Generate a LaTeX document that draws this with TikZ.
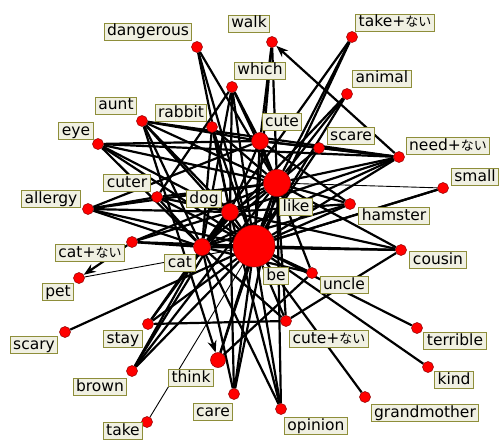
\documentclass[tikz,border=0pt]{standalone}
\usepackage{fontspec}
\setmainfont{DejaVu Sans}
\newfontfamily\jpfont{Noto Sans CJK JP}
\usetikzlibrary{arrows.meta,backgrounds}
\newcommand\naitext{{\jpfont\fontsize{13}{14}\selectfont ない}}
\definecolor{labfill}{HTML}{F0F0E2}
\definecolor{labdraw}{HTML}{8E8E3A}
\definecolor{dotred}{HTML}{FF0000}
\tikzset{
  dot/.style={circle, fill=dotred, draw=red!55!black, line width=0.5pt, inner sep=0pt, minimum size=11pt},
  lab/.style={rectangle, fill=labfill, draw=labdraw, line width=1pt, inner xsep=3pt, inner ysep=1pt,
    text height=11.5pt, text depth=3.5pt, font=\fontsize{15.5}{17}\selectfont},
  edge/.style={line width=2.2pt, black},
  thinedge/.style={line width=0.9pt, black},
  arr/.style={line width=2.2pt, black, -{Stealth[length=12pt,width=9pt]}},
}
\begin{document}
\begin{tikzpicture}[x=1pt,y=-1pt]
\useasboundingbox (0,0) rectangle (502,441);
% dots
\node[dot] (dangerous) at (197,47) {};
\node[dot] (walk) at (272,42) {};
\node[dot] (takenai) at (352,37) {};
\node[dot] (which) at (232,87) {};
\node[dot] (animal) at (347,94) {};
\node[dot] (aunt) at (142,121) {};
\node[dot] (rabbit) at (212,127) {};
\node[dot] (eye) at (98,144) {};
\node[dot] (cuter) at (157,197) {};
\node[dot] (allergy) at (88,209) {};
\node[dot, minimum size=17pt] (cute) at (260,141) {};
\node[dot] (scare) at (319,148) {};
\node[dot] (need) at (399,157) {};
\node[dot] (small) at (443,188) {};
\node[dot, minimum size=27pt] (like) at (277,183) {};
\node[dot] (hamster) at (350,204) {};
\node[dot, minimum size=17pt] (dog) at (230,212) {};
\node[dot] (catnai) at (132,242) {};
\node[dot, minimum size=17pt] (cat) at (202,247) {};
\node[dot, minimum size=42pt] (be) at (254,246) {};
\node[dot] (cousin) at (401,250) {};
\node[dot] (uncle) at (312,273) {};
\node[dot] (pet) at (79,278) {};
\node[dot] (cutenai) at (286,321) {};
\node[dot] (terrible) at (417,328) {};
\node[dot] (scary) at (65,332) {};
\node[dot] (stay) at (148,324) {};
\node[dot] (kind) at (428,367) {};
\node[dot, minimum size=15pt] (think) at (218,360) {};
\node[dot] (brown) at (132,371) {};
\node[dot] (care) at (234,394) {};
\node[dot] (grandmother) at (365,397) {};
\node[dot] (opinion) at (281,409) {};
\node[dot] (take) at (147,422) {};
% edges
\begin{pgfonlayer}{background}
\fill[white] (0,0) rectangle (502,441);
\foreach \a in {dangerous,walk,takenai,which,animal,aunt,rabbit,cute,scare,eye,need,cuter,small,like,dog,allergy,hamster,catnai,cat,cousin,uncle,stay,cutenai,terrible,scary,brown,kind,think,care,grandmother,opinion}
  \draw[edge] (be) -- (\a);
\foreach \a in {dangerous,walk,takenai,which,animal,aunt,rabbit,cute,scare,eye,need,cuter,dog,allergy,hamster,catnai,cat,cousin,uncle,cutenai,think,care,opinion,brown}
  \draw[edge] (like) -- (\a);
\foreach \a in {which,animal,aunt,rabbit,eye,need,cuter,allergy,hamster,catnai,cousin,uncle,stay,brown,cutenai,opinion,care,dog,takenai}
  \draw[edge] (cat) -- (\a);
\foreach \a in {dangerous,which,aunt,rabbit,eye,need,cuter,allergy,hamster,catnai,cousin,brown,care,cute,opinion,stay}
  \draw[edge] (dog) -- (\a);
\foreach \a in {walk,which,aunt,eye,allergy,need,scare,hamster}
  \draw[edge] (cute) -- (\a);
\draw[edge] (cutenai) -- (cousin);
\draw[edge] (allergy) -- (cuter);
\draw[edge] (which) -- (cuter);
\draw[edge] (eye) -- (need);
\draw[edge] (aunt) -- (need);
\draw[edge] (uncle) -- (think);
\draw[edge] (cutenai) -- (stay);
\draw[edge] (scare) -- (need);
\draw[edge] (small) -- (be);
\draw[thinedge] (small) -- (like);
\draw[thinedge] (pet) -- (be);
\draw[thinedge] (take) -- (be);
\draw[arr] (need) -- (walk);
\draw[arr] (catnai) -- (pet);
\draw[arr] (aunt) -- (think);
\end{pgfonlayer}
% labels
\node[lab] (dangerous-t) at (148,32) {dangerous};
\node[lab] (walk-t) at (249,24) {walk};
\node[lab] (takenai-t) at (395,23) {take+\naitext};
\node[lab] (which-t) at (260,71) {which};
\node[lab] (animal-t) at (382,79) {animal};
\node[lab] (aunt-t) at (116,106) {aunt};
\node[lab] (rabbit-t) at (181,113) {rabbit};
\node[lab] (eye-t) at (76,131) {eye};
\node[lab] (cuter-t) at (127,183) {cuter};
\node[lab] (dog-t) at (204,199) {dog};
\node[lab] (allergy-t) at (51,199) {allergy};
\node[lab] (cute-t) at (282,122) {cute};
\node[lab] (scare-t) at (351,136) {scare};
\node[lab] (need-t) at (448,146) {need+\naitext};
\node[lab] (small-t) at (475,177) {small};
\node[lab] (like-t) at (296,207) {like};
\node[lab] (hamster-t) at (394,216) {hamster};
\node[lab] (cousin-t) at (438,260) {cousin};
\node[lab] (uncle-t) at (344,285) {uncle};
\node[lab] (be-t) at (276,276) {be};
\node[lab] (cutenai-t) at (329,339) {cute+\naitext};
\node[lab] (terrible-t) at (455,341) {terrible};
\node[lab] (kind-t) at (454,380) {kind};
\node[lab] (grandmother-t) at (425,413) {grandmother};
\node[lab] (opinion-t) at (316,426) {opinion};
\node[lab] (catnai-t) at (90,253) {cat+\naitext};
\node[lab] (cat-t) at (180,263) {cat};
\node[lab] (pet-t) at (58,292) {pet};
\node[lab] (scary-t) at (34,345) {scary};
\node[lab] (stay-t) at (123,339) {stay};
\node[lab] (brown-t) at (100,387) {brown};
\node[lab] (think-t) at (191,378) {think};
\node[lab] (care-t) at (213,412) {care};
\node[lab] (take-t) at (123,431) {take};
\end{tikzpicture}
\end{document}
